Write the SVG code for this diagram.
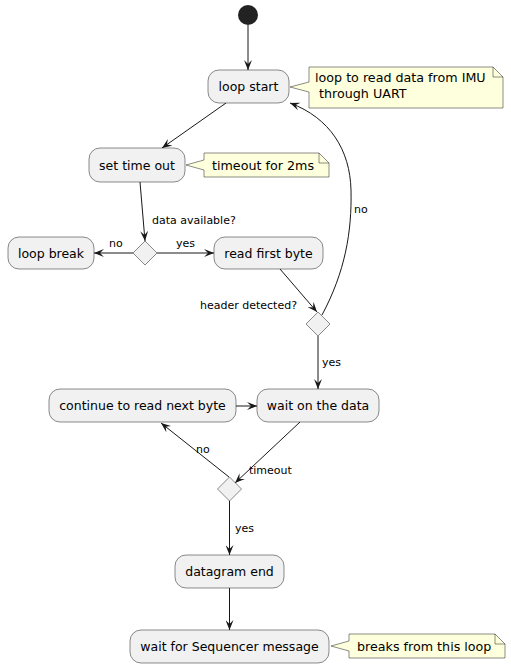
<svg xmlns="http://www.w3.org/2000/svg" width="511" height="668" viewBox="0 0 511 668">
<defs>
<marker id="ah" viewBox="0 0 10 8" refX="10" refY="4" markerWidth="10" markerHeight="8" orient="auto" markerUnits="userSpaceOnUse">
<path d="M0,0 L10,4 L0,8 L4,4 Z" fill="#181818"/>
</marker>
<style>
.box{fill:#F1F1F1;stroke:#181818;stroke-width:0.5}
.note{fill:#FEFFDD;stroke:#181818;stroke-width:0.5}
.t{font-family:"DejaVu Sans",sans-serif;font-size:12.5px;fill:#000}
.n{font-family:"DejaVu Sans",sans-serif;font-size:12.7px;fill:#000}
.l{font-family:"DejaVu Sans",sans-serif;font-size:11px;fill:#000}
.c{stroke:#181818;stroke-width:1;fill:none;marker-end:url(#ah)}
</style>
</defs>
<rect width="511" height="668" fill="#FFFFFF"/>
<g id="connectors">
<line class="c" x1="248" y1="25" x2="248" y2="70"/>
<line class="c" x1="226" y1="103" x2="162" y2="148"/>
<line class="c" x1="140" y1="182" x2="145" y2="241"/>
<text class="l" x="152" y="224">data available?</text>
<line class="c" x1="133" y1="253" x2="94" y2="253"/>
<text class="l" x="109" y="247">no</text>
<line class="c" x1="157" y1="253" x2="214" y2="253"/>
<text class="l" x="176" y="247">yes</text>
<line class="c" x1="280" y1="269" x2="317" y2="312"/>
<text class="l" x="297" y="309" text-anchor="end">header detected?</text>
<path class="c" d="M322,315 C345,272 352,232 351,190 C350,150 330,118 290,103"/>
<text class="l" x="354" y="213">no</text>
<line class="c" x1="318" y1="336" x2="318" y2="389"/>
<text class="l" x="322" y="366">yes</text>
<line class="c" x1="236" y1="406" x2="257" y2="406"/>
<line class="c" x1="300" y1="422" x2="235" y2="483"/>
<text class="l" x="249" y="474">timeout</text>
<line class="c" x1="229" y1="477" x2="161" y2="423"/>
<text class="l" x="196" y="453">no</text>
<line class="c" x1="229.5" y1="501" x2="229.5" y2="555"/>
<text class="l" x="235" y="532">yes</text>
<line class="c" x1="229.5" y1="588" x2="229.5" y2="630"/>
</g>
<g id="start"><circle cx="248" cy="15" r="10" fill="#222222"/></g>
<g id="loop-start">
<rect class="box" x="208" y="70" width="81" height="33" rx="11"/>
<text class="t" x="248.5" y="91" text-anchor="middle">loop start</text>
</g>
<g id="note-loop">
<path class="note" d="M309,67 L493,67 L503,77 L503,108 L309,108 L309,92 L290,87 L309,82 Z"/>
<path d="M493,67 L493,77 L503,77" fill="none" stroke="#181818" stroke-width="0.5"/>
<text class="n" x="315" y="82">loop to read data from IMU</text>
<text class="n" x="315" y="98" xml:space="preserve"> through UART</text>
</g>
<g id="set-time-out">
<rect class="box" x="89" y="148" width="96" height="34" rx="11"/>
<text class="t" x="137" y="169.5" text-anchor="middle">set time out</text>
</g>
<g id="note-timeout">
<path class="note" d="M204,153 L319,153 L329,163 L329,177 L204,177 L204,170 L186,165 L204,160 Z"/>
<path d="M319,153 L319,163 L329,163" fill="none" stroke="#181818" stroke-width="0.5"/>
<text class="n" x="212" y="170">timeout for 2ms</text>
</g>
<g id="decision-data">
<polygon class="box" points="145,241 157,253 145,265 133,253"/>
</g>
<g id="loop-break">
<rect class="box" x="8" y="237" width="86" height="32" rx="11"/>
<text class="t" x="51" y="257.5" text-anchor="middle">loop break</text>
</g>
<g id="read-first-byte">
<rect class="box" x="214" y="237" width="109" height="32" rx="11"/>
<text class="t" x="268.5" y="257.5" text-anchor="middle">read first byte</text>
</g>
<g id="decision-header">
<polygon class="box" points="318,312 330,324 318,336 306,324"/>
</g>
<g id="continue-read">
<rect class="box" x="49" y="389" width="187" height="33" rx="11"/>
<text class="t" x="142.5" y="410" text-anchor="middle">continue to read next byte</text>
</g>
<g id="wait-data">
<rect class="box" x="257" y="389" width="122" height="33" rx="11"/>
<text class="t" x="318" y="410" text-anchor="middle">wait on the data</text>
</g>
<g id="decision-timeout">
<polygon class="box" points="229.5,477 241.5,489 229.5,501 217.5,489"/>
</g>
<g id="datagram-end">
<rect class="box" x="175" y="555" width="109" height="33" rx="11"/>
<text class="t" x="229.5" y="576" text-anchor="middle">datagram end</text>
</g>
<g id="wait-sequencer">
<rect class="box" x="130" y="630" width="199" height="33" rx="11"/>
<text class="t" x="229.5" y="651" text-anchor="middle">wait for Sequencer message</text>
</g>
<g id="note-breaks">
<path class="note" d="M349,634 L495,634 L505,644 L505,658 L349,658 L349,651 L331,646 L349,641 Z"/>
<path d="M495,634 L495,644 L505,644" fill="none" stroke="#181818" stroke-width="0.5"/>
<text class="n" x="357" y="651">breaks from this loop</text>
</g>
</svg>
